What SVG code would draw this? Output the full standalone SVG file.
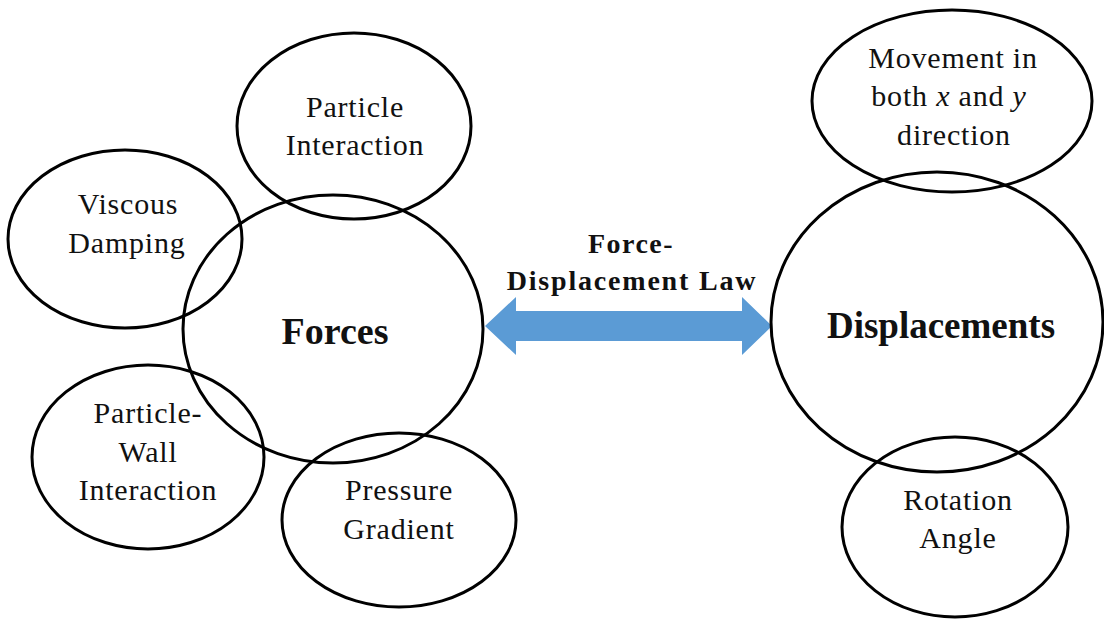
<svg xmlns="http://www.w3.org/2000/svg" width="1104" height="623" viewBox="0 0 1104 623">
<style>
.e{fill:none;stroke:#000;stroke-width:3}
.t{font-family:"Liberation Serif","Times New Roman",serif;font-size:30px;letter-spacing:0.8px;fill:#111;text-anchor:middle}
.b{font-family:"Liberation Serif","Times New Roman",serif;font-weight:bold;fill:#111;text-anchor:middle}
</style>
<rect width="1104" height="623" fill="#fff"/>
<g id="connectors">
<path d="M485,326 L516,297 L516,311 L742,311 L742,297 L772,326 L742,355 L742,341 L516,341 L516,355 Z" fill="#5b9bd5"/>
<text class="b" x="631" y="253" font-size="28" letter-spacing="1.5">Force-</text>
<text class="b" x="632" y="290" font-size="28" letter-spacing="1.8">Displacement Law</text>
</g>
<g id="forces">
<ellipse class="e" cx="333" cy="329" rx="150" ry="134"/>
<text class="b" x="335" y="344" font-size="38">Forces</text>
</g>
<g id="particle-interaction">
<ellipse class="e" cx="354" cy="126" rx="117" ry="93"/>
<text class="t" x="355" y="117">Particle</text>
<text class="t" x="355" y="155">Interaction</text>
</g>
<g id="viscous-damping">
<ellipse class="e" cx="125" cy="239" rx="117" ry="89"/>
<text class="t" x="128" y="214">Viscous</text>
<text class="t" x="127" y="253">Damping</text>
</g>
<g id="particle-wall">
<ellipse class="e" cx="148" cy="457" rx="116" ry="92"/>
<text class="t" x="148" y="423">Particle-</text>
<text class="t" x="148" y="462" letter-spacing="3">Wall</text>
<text class="t" x="148" y="500">Interaction</text>
</g>
<g id="pressure-gradient">
<ellipse class="e" cx="399" cy="520" rx="117" ry="87"/>
<text class="t" x="399" y="500">Pressure</text>
<text class="t" x="399" y="539">Gradient</text>
</g>
<g id="displacements">
<ellipse class="e" cx="937" cy="322" rx="166" ry="150"/>
<text class="b" x="941" y="338" font-size="37">Displacements</text>
</g>
<g id="movement">
<ellipse class="e" cx="952" cy="101" rx="140" ry="91"/>
<text class="t" x="953" y="68">Movement in</text>
<text class="t" x="949" y="106">both <tspan font-style="italic">x</tspan> and <tspan font-style="italic">y</tspan></text>
<text class="t" x="954" y="145">direction</text>
</g>
<g id="rotation-angle">
<ellipse class="e" cx="955" cy="527" rx="113" ry="90"/>
<text class="t" x="958" y="510">Rotation</text>
<text class="t" x="958" y="548">Angle</text>
</g>
</svg>
